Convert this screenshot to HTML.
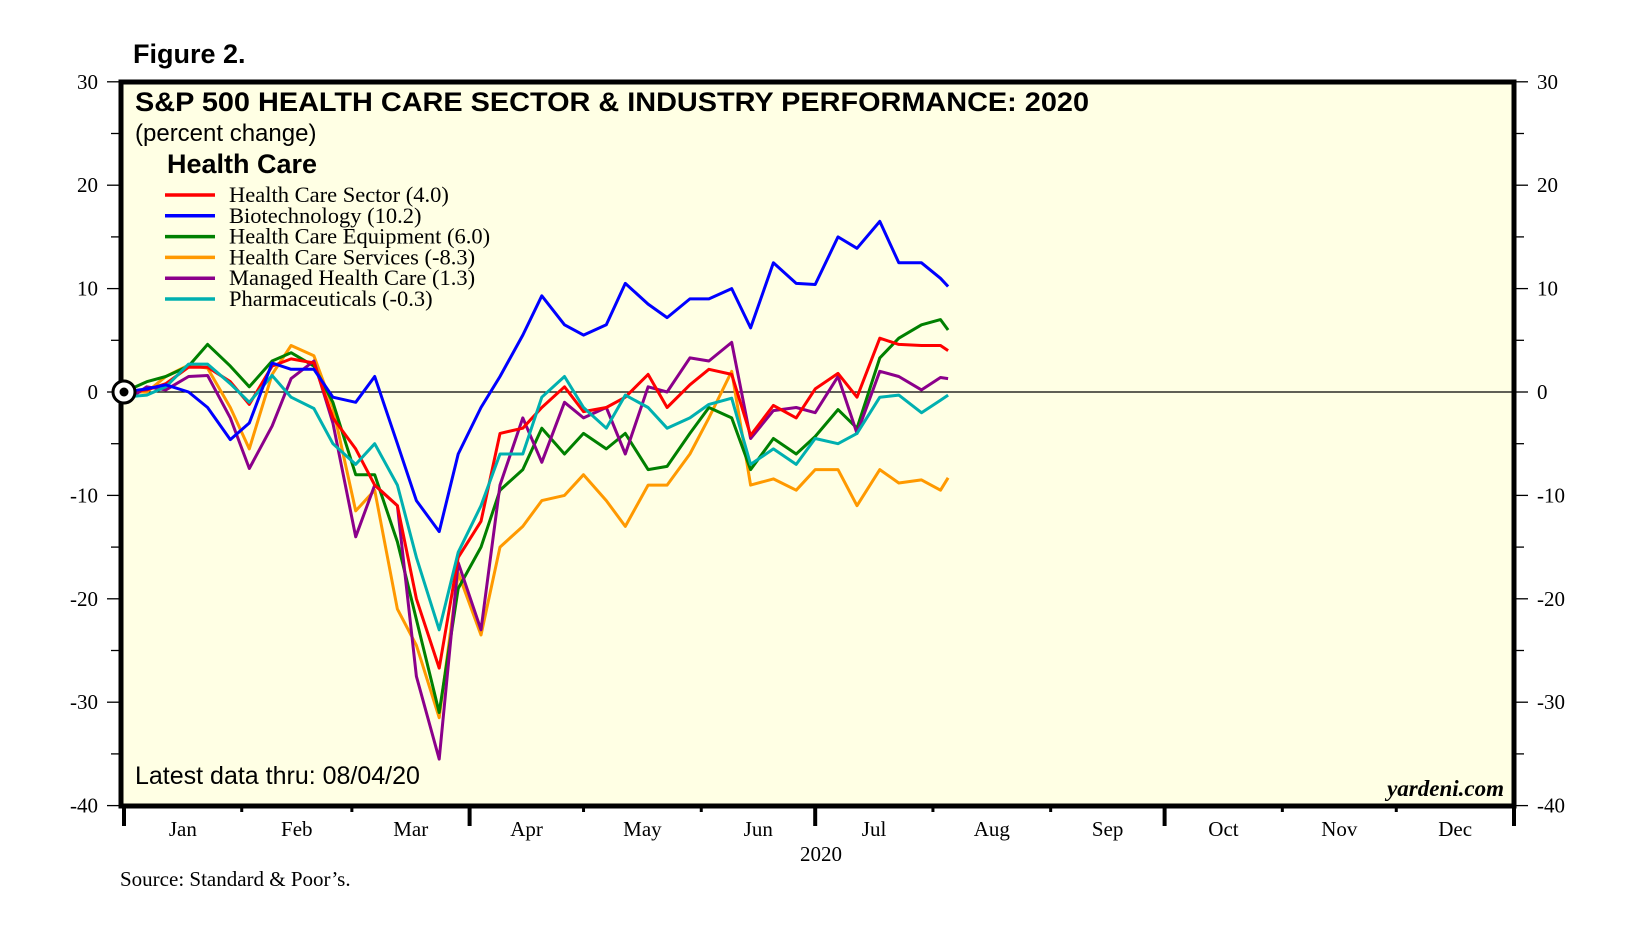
<!DOCTYPE html>
<html><head><meta charset="utf-8"><style>
html,body{margin:0;padding:0;background:#fff}
svg{display:block}
.ax{font-family:"Liberation Serif",serif;font-size:21px;fill:#000}
.lg{font-family:"Liberation Serif",serif;font-size:22.5px;fill:#000}
</style></head><body>
<svg id="chart" width="1641" height="935" viewBox="0 0 1641 935" xmlns="http://www.w3.org/2000/svg">
<text x="133" y="63" font-family="Liberation Sans, sans-serif" font-weight="bold" font-size="27">Figure 2.</text>
<rect x="121" y="82" width="1393" height="724" fill="#ffffe4" stroke="#000" stroke-width="5"/>
<g id="grid"></g>
<g id="series"></g>
<text x="135" y="111" font-family="Liberation Sans, sans-serif" font-weight="bold" font-size="27" textLength="954" lengthAdjust="spacingAndGlyphs">S&amp;P 500 HEALTH CARE SECTOR &amp; INDUSTRY PERFORMANCE: 2020</text>
<text x="135" y="141" font-family="Liberation Sans, sans-serif" font-size="24">(percent change)</text>
<text x="167" y="173" font-family="Liberation Sans, sans-serif" font-weight="bold" font-size="27">Health Care</text>
<g id="legend"></g>
<text x="135" y="784" font-family="Liberation Sans, sans-serif" font-size="25">Latest data thru: 08/04/20</text>
<text x="1504" y="796" text-anchor="end" font-family="Liberation Serif, serif" font-style="italic" font-weight="bold" font-size="23">yardeni.com</text>
<text class="ax" x="821" y="861" text-anchor="middle">2020</text>
<text class="ax" x="120" y="886">Source: Standard &amp; Poor’s.</text>
</svg>
<script>
const days=[0,6,11,17,22,28,33,39,44,50,55,61,66,72,77,83,88,94,99,105,110,116,121,127,132,138,143,149,154,160,165,171,177,182,188,193,199,204,210,215,217];
const sectorVals=[0,0.2,0.8,2.4,2.4,1,-1.2,2.5,3.2,2.8,-2.5,-5.5,-9,-11,-20,-26.7,-16,-12.5,-4,-3.5,-1.5,0.5,-1.9,-1.5,-0.5,1.7,-1.5,0.7,2.2,1.7,-4.2,-1.3,-2.5,0.3,1.8,-0.5,5.2,4.6,4.5,4.5,4.0];
const biotechVals=[0,0.3,0.7,0,-1.5,-4.6,-3,2.8,2.2,2.2,-0.5,-1,1.5,-5,-10.5,-13.5,-6,-1.5,1.5,5.5,9.3,6.5,5.5,6.5,10.5,8.5,7.2,9,9,10,6.2,12.5,10.5,10.4,15,13.9,16.5,12.5,12.5,11,10.2];
const equipVals=[0,1,1.5,2.5,4.6,2.5,0.5,3,3.8,2.5,-1,-8,-8,-14.5,-22,-31,-19,-15,-9.5,-7.5,-3.5,-6,-4,-5.5,-4,-7.5,-7.2,-4,-1.5,-2.5,-7.5,-4.5,-6,-4.3,-1.7,-3.5,3.3,5.2,6.5,7,6.0];
const servicesVals=[0,0,1.5,2.6,2.3,-1.5,-5.5,1.7,4.5,3.5,-1.5,-11.5,-9.5,-21,-24.5,-31.5,-17.5,-23.5,-15,-13,-10.5,-10,-8,-10.5,-13,-9,-9,-6,-2.5,2,-9,-8.4,-9.5,-7.5,-7.5,-11,-7.5,-8.8,-8.5,-9.5,-8.3];
const managedVals=[-1,0.5,0.2,1.5,1.6,-2.5,-7.4,-3.3,1.3,3,-3,-14,-9,-11,-27.5,-35.5,-16.5,-23,-9,-2.5,-6.8,-1,-2.5,-1.5,-6,0.5,0,3.3,3,4.8,-4.5,-1.8,-1.5,-2,1.5,-4,2,1.5,0.2,1.4,1.3];
const pharmaVals=[-0.5,-0.3,0.5,2.7,2.7,0.8,-1,1.6,-0.5,-1.6,-5,-7,-5,-9,-16,-23,-15.5,-11,-6,-6,-0.5,1.5,-1.5,-3.5,-0.3,-1.5,-3.5,-2.5,-1.2,-0.6,-7,-5.5,-7,-4.5,-5,-4,-0.5,-0.3,-2,-0.8,-0.3];
const seriesNames=["Health Care Sector (4.0)","Biotechnology (10.2)","Health Care Equipment (6.0)","Health Care Services (-8.3)","Managed Health Care (1.3)","Pharmaceuticals (-0.3)"];
const yTicks=[30,20,10,0,-10,-20,-30,-40];
const months=["Jan","Feb","Mar","Apr","May","Jun","Jul","Aug","Sep","Oct","Nov","Dec"];
const monthStarts=[0,31,60,91,121,152,182,213,244,274,305,335,366];

const NS="http://www.w3.org/2000/svg";
const X0=124,X1=1514,Y0=392,PPU=10.34;
function xs(d){return X0+d*(X1-X0)/366;}
function ys(v){return Y0-v*PPU;}
function mk(tag,attrs,parent){const e=document.createElementNS(NS,tag);for(const k in attrs)e.setAttribute(k,attrs[k]);parent.appendChild(e);return e;}
const grid=document.getElementById('grid');
const ser=document.getElementById('series');
const legend=document.getElementById('legend');

for(let v=30;v>=-40;v-=5){
  const major=v%10===0;
  const t1=mk('line',{x1:major?107:111,x2:121,y1:ys(v),y2:ys(v),stroke:'#000','stroke-width':1.3},grid);
  
  
  const t2=mk('line',{x1:1514,x2:major?1528:1524,y1:ys(v),y2:ys(v),stroke:'#000','stroke-width':1.3},grid);
  
  
}
yTicks.forEach(v=>{
  const l=mk('text',{x:98,y:ys(v)+7,'text-anchor':'end',class:'ax'},grid);l.textContent=String(v);
  
  
  const r=mk('text',{x:1537,y:ys(v)+7,class:'ax'},grid);r.textContent=String(v);
  
  
});
const z=mk('line',{x1:121,x2:1514,y1:ys(0),y2:ys(0),stroke:'#000','stroke-width':1.3},grid);


monthStarts.forEach((d,i)=>{
  const q=(i%3===0);
  const t=mk('line',{x1:xs(d),x2:xs(d),y1:806,y2:q?826:812,stroke:'#000','stroke-width':q?4:3},grid);
  
  
  if(i<12){
    const l=mk('text',{x:xs((d+monthStarts[i+1])/2),y:836,'text-anchor':'middle',class:'ax'},grid);
    l.textContent=months[i];
    
    
  }
});
const all=[[sectorVals,'#ff0000','sector-line'],[biotechVals,'#0000ff','biotech-line'],[equipVals,'#008000','equipment-line'],[servicesVals,'#ff9900','services-line'],[managedVals,'#8b008b','managed-care-line'],[pharmaVals,'#00b0b0','pharma-line']];
const order=[3,2,4,0,5,1];
order.forEach(i=>{
  const [vals,col,nm]=all[i];
  const p=mk('polyline',{points:days.map((d,k)=>xs(d).toFixed(1)+','+ys(vals[k]).toFixed(1)).join(' '),fill:'none',stroke:col,'stroke-width':3,'stroke-linejoin':'round'},ser);
  
  
});
const c1=mk('circle',{cx:xs(0),cy:ys(0),r:11,fill:'#fff',stroke:'#000','stroke-width':3},ser);


const c2=mk('circle',{cx:xs(0),cy:ys(0),r:4.5,fill:'#000'},ser);


seriesNames.forEach((n,i)=>{
  const y=195+i*20.8;
  const ln=mk('line',{x1:165,x2:215,y1:y,y2:y,stroke:all[i][1],'stroke-width':3.5},legend);
  
  
  const t=mk('text',{x:229,y:y+7,class:'lg'},legend);
  t.textContent=n;
  
  
});
</script>
</body></html>
